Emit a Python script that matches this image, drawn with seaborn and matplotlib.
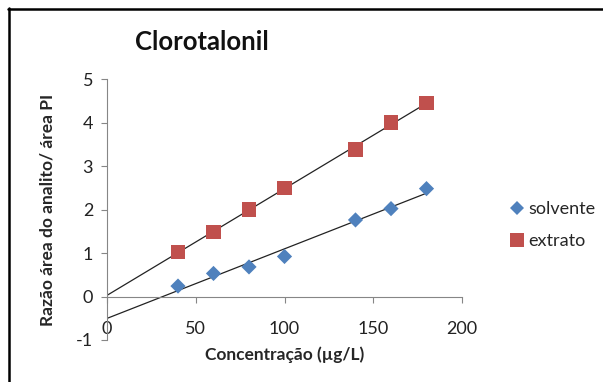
import numpy as np
import pandas as pd
import matplotlib
matplotlib.use("Agg")
import matplotlib.pyplot as plt
from matplotlib.lines import Line2D
import seaborn as sns

sns.set_style("white")
plt.rcParams["font.family"] = ["Lato", "DejaVu Sans"]
plt.rcParams["axes.unicode_minus"] = False

# Calibration data: concentration (µg/L) vs. analyte/IS area ratio
concentracao = [40, 60, 80, 100, 140, 160, 180]
solvente = [0.24, 0.53, 0.68, 0.92, 1.76, 2.02, 2.48]
extrato = [1.02, 1.48, 2.00, 2.50, 3.38, 4.00, 4.45]
x_ticks = [0, 50, 100, 150, 200]
y_ticks = [-1, 0, 1, 2, 3, 4, 5]

c_solv = "#4F81BD"
c_extr = "#C0504D"

df = pd.DataFrame({
    "conc": concentracao * 2,
    "razao": solvente + extrato,
    "serie": ["solvente"] * len(solvente) + ["extrato"] * len(extrato),
})

fig = plt.figure(figsize=(6.03, 3.82), dpi=100)
ax = fig.add_axes([107 / 603, 1 - 340 / 382, (462 - 107) / 603, (340 - 79) / 382])

# linear trendlines extended back to x = 0
xs = np.array([0, max(concentracao)])
for vals in (solvente, extrato):
    m, b = np.polyfit(concentracao, vals, 1)
    ax.plot(xs, m * xs + b, color="#222222", lw=0.9, zorder=2)

sns.scatterplot(data=df[df.serie == "solvente"], x="conc", y="razao", marker="D",
                s=60, color=c_solv, edgecolor="none", ax=ax, zorder=3, legend=False)
sns.scatterplot(data=df[df.serie == "extrato"], x="conc", y="razao", marker="s",
                s=105, color=c_extr, edgecolor="none", ax=ax, zorder=3, legend=False)

ax.set_xlim(0, 200)
ax.set_ylim(-1, 5)
ax.set_xticks(x_ticks)
ax.set_yticks(y_ticks)

for s in ("top", "right"):
    ax.spines[s].set_visible(False)
ax.spines["bottom"].set_position(("data", 0))
for s in ("left", "bottom"):
    ax.spines[s].set_color("#868686")
    ax.spines[s].set_linewidth(0.8)

ax.tick_params(axis="y", direction="out", length=4, width=0.8, color="#868686",
               labelsize=13, labelcolor="#222222", pad=6, left=True)
ax.tick_params(axis="x", direction="out", length=4, width=0.8, color="#868686",
               labelsize=13, labelcolor="#222222", pad=14, bottom=True)

ax.set_xlabel("Concentração (µg/L)", fontsize=12.5, fontweight="bold")
ax.set_ylabel("Razão área do analito/ área PI", fontsize=12.5, fontweight="bold")
ax.xaxis.set_label_coords(0.5, -0.025)
ax.yaxis.set_label_coords(-0.145, 0.5)

fig.text(135 / 603, 1 - 42 / 382, "Clorotalonil", fontsize=18.5, fontweight="bold",
         ha="left", va="center", color="#111111")

handles = [
    Line2D([], [], marker="D", color=c_solv, linestyle="none", markersize=7.5, markeredgewidth=0),
    Line2D([], [], marker="s", color=c_extr, linestyle="none", markersize=10, markeredgewidth=0),
]
fig.legend(handles, ["solvente", "extrato"], loc="upper left",
           bbox_to_anchor=(494 / 603, 1 - 185 / 382), frameon=False, fontsize=13,
           handlelength=0.8, handletextpad=0.2, labelspacing=0.9)

# frame edges along the top and left of the chart area
fig.add_artist(Line2D([8 / 603, 1], [1 - 9 / 382, 1 - 9 / 382], color="black", lw=1.8,
                      transform=fig.transFigure))
fig.add_artist(Line2D([8.5 / 603, 8.5 / 603], [0, 1 - 8 / 382], color="black", lw=1.8,
                      transform=fig.transFigure))

fig.savefig("out.png", dpi=100)
